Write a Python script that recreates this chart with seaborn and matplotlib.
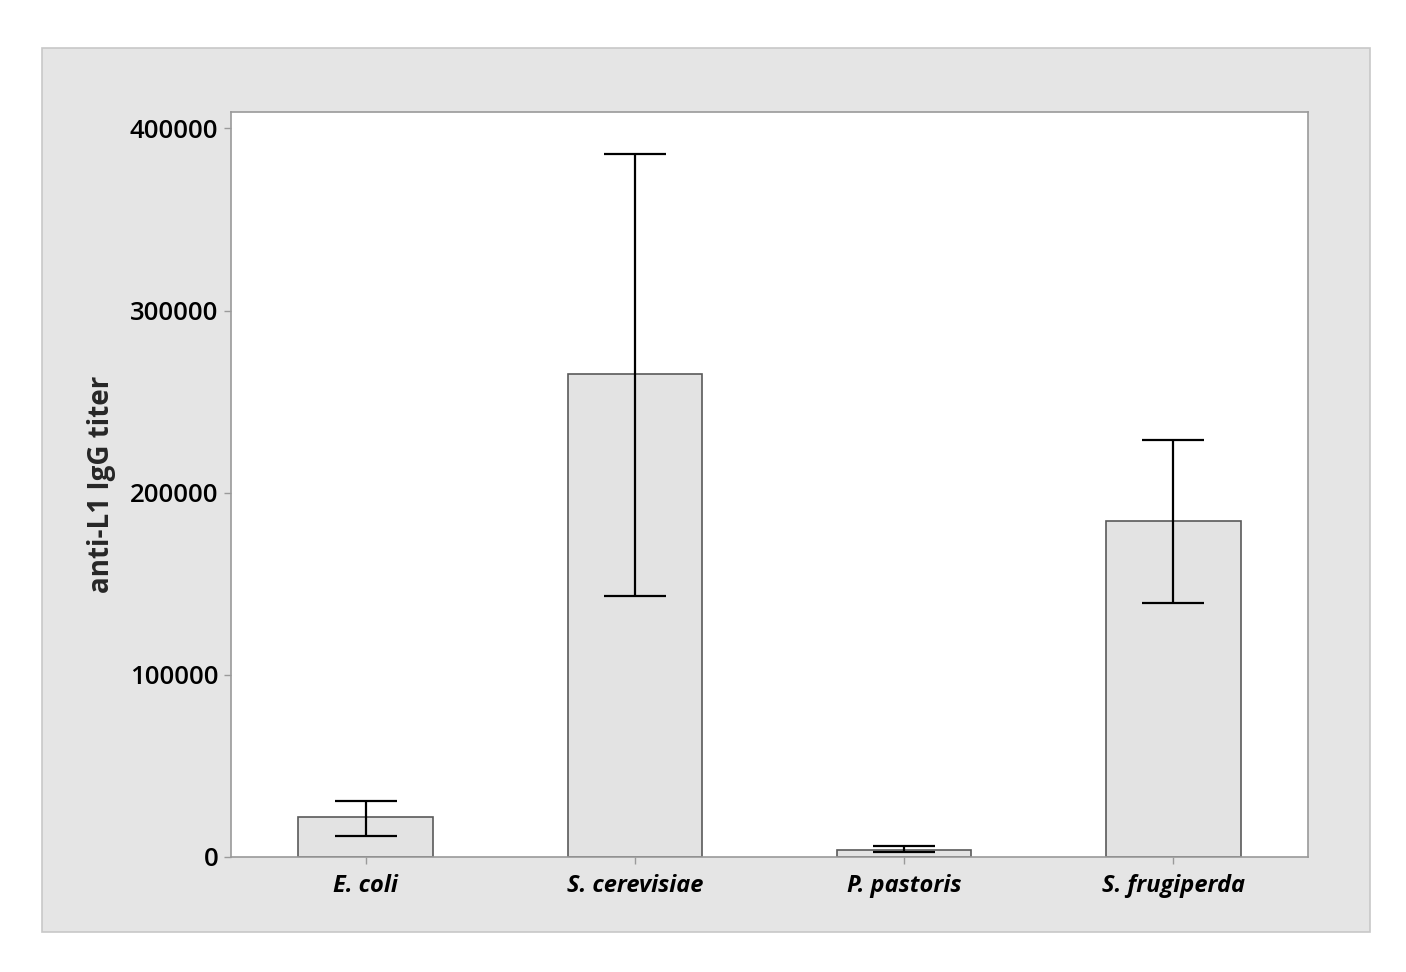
import matplotlib
matplotlib.use("Agg")
import matplotlib.pyplot as plt
import seaborn as sns
import pandas as pd
import numpy as np
from matplotlib.patches import Rectangle

# données
species = ["E. coli", "S. cerevisiae", "P. pastoris", "S. frugiperda"]
titer_mean = [22000, 265300, 3800, 184400]
err_upper = [31000, 385700, 5900, 229000]
err_lower = [11700, 143400, 2500, 139600]
y_ticks = [0, 100000, 200000, 300000, 400000]

df = pd.DataFrame({"species": species, "titer": titer_mean})

sns.set_theme(style="white")
plt.rcParams["font.family"] = ["Open Sans", "DejaVu Sans"]

fig = plt.figure(figsize=(14.06, 9.72), dpi=100)
fig.patch.set_facecolor("white")
fig.patches.append(
    Rectangle((42 / 1406, 1 - 932 / 972), (1370 - 42) / 1406, (932 - 48) / 972,
              transform=fig.transFigure, facecolor="#e5e5e5",
              edgecolor="#c8c8c8", linewidth=1.2, zorder=-10)
)

ax = fig.add_axes([231 / 1406, 1 - 857 / 972, (1308 - 231) / 1406, (857 - 112) / 972])
ax.set_zorder(1)
ax.set_facecolor("white")

sns.barplot(data=df, x="species", y="titer", ax=ax, color="#e3e3e3",
            edgecolor="#5a5a5a", linewidth=1.2, width=0.5, saturation=1,
            errorbar=None)

x = np.arange(len(species))
means = np.array(titer_mean)
yerr = np.vstack([means - np.array(err_lower), np.array(err_upper) - means])
ax.errorbar(x, means, yerr=yerr, fmt="none", ecolor="black",
            elinewidth=1.6, capsize=22, capthick=1.6, zorder=5)

ax.set_xlim(-0.5, 3.5)
ax.set_ylim(0, 409000)
ax.set_yticks(y_ticks)
ax.set_yticklabels([str(t) for t in y_ticks], fontsize=18.5, fontweight="semibold")
ax.set_xticks(x)
ax.set_xticklabels(species, fontsize=17, fontweight="bold", fontstyle="italic")
ax.set_xlabel("")
ax.set_ylabel("anti-L1 IgG titer", fontsize=20, fontweight="bold", labelpad=10)

for s in ax.spines.values():
    s.set_color("#9a9a9a")
    s.set_linewidth(1.2)
ax.tick_params(axis="both", direction="out", length=5, width=1,
               color="#9a9a9a", labelcolor="black")
ax.tick_params(axis="x", pad=7)
ax.tick_params(axis="y", pad=4)
ax.tick_params(left=True, bottom=True)

fig.savefig("out.png", dpi=100)
